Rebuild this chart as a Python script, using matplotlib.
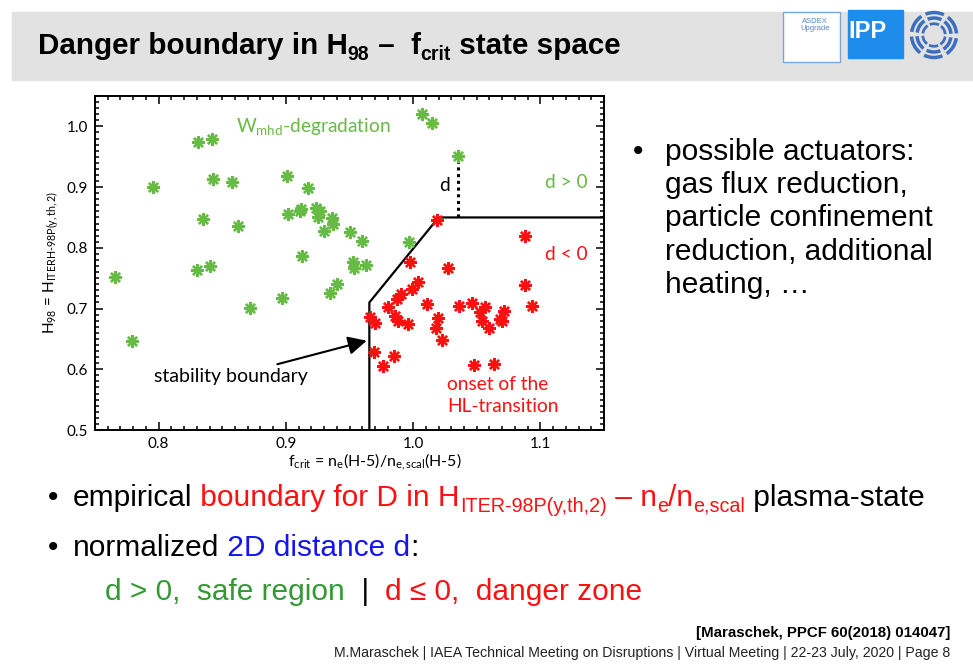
import matplotlib
matplotlib.use('Agg')
import matplotlib.pyplot as plt
from matplotlib.patches import Rectangle, Arc
from matplotlib.ticker import MultipleLocator

# safe (green) shots: f_crit, H98
green_f = [0.766, 0.779, 0.7956, 0.831, 0.8417, 0.8427, 0.8578, 0.8346, 0.8627,
           0.830, 0.840, 0.872, 0.8966, 0.9008, 0.9177, 0.9018, 0.911, 0.9115,
           0.924, 0.925, 0.927, 0.936, 0.937, 0.930, 0.9505, 0.960, 0.9125,
           0.9346, 0.9404, 0.953, 0.9534, 0.9627, 0.997, 1.007, 1.0146, 1.035]
green_h = [0.7525, 0.646, 0.9005, 0.974, 0.979, 0.913, 0.909, 0.847, 0.836,
           0.764, 0.7695, 0.701, 0.717, 0.919, 0.898, 0.856, 0.861, 0.864,
           0.866, 0.850, 0.860, 0.849, 0.839, 0.827, 0.826, 0.811, 0.787,
           0.7256, 0.7404, 0.776, 0.767, 0.772, 0.810, 1.020, 1.006, 0.951]

# danger (red) shots: onset of the HL-transition
red_f = [1.019, 1.088, 0.9977, 1.0276, 1.0042, 0.9995, 0.9906, 0.9877, 0.9802,
         1.0112, 0.9662, 0.9703, 0.9861, 0.988, 0.9958, 1.0193, 1.018, 1.0224,
         0.969, 0.985, 0.9766, 1.0362, 1.0466, 1.0523, 1.0568, 1.0544, 1.0596,
         1.0682, 1.0711, 1.0701, 1.0883, 1.0935, 1.0479, 1.0633]
red_h = [0.845, 0.819, 0.776, 0.767, 0.743, 0.732, 0.724, 0.715, 0.7025,
         0.7074, 0.686, 0.677, 0.688, 0.680, 0.674, 0.684, 0.668, 0.6485,
         0.628, 0.6226, 0.6056, 0.7035, 0.709, 0.695, 0.7025, 0.680, 0.668,
         0.6827, 0.696, 0.680, 0.739, 0.705, 0.607, 0.609]

# stability boundary and example distance d
bound_f = [0.9656, 0.9656, 1.02, 1.15]
bound_h = [0.5, 0.71, 0.85, 0.85]
dist_f = [1.035, 1.035]
dist_h = [0.85, 0.949]

xticks = [0.8, 0.9, 1.0, 1.1]
yticks = [0.5, 0.6, 0.7, 0.8, 0.9, 1.0]

W, H = 973, 664
SLIDE = ['Liberation Sans', 'DejaVu Sans']
NARROW = ['Liberation Sans Narrow', 'Liberation Sans', 'DejaVu Sans']
PLOTF = ['Lato', 'DejaVu Sans']
GREEN = '#66bb44'
RED = '#ff1010'

plt.rcParams['mathtext.fontset'] = 'custom'
plt.rcParams['mathtext.rm'] = 'Lato'
plt.rcParams['mathtext.it'] = 'Lato:italic'

fig = plt.figure(figsize=(W / 100, H / 100), dpi=100)
ren = fig.canvas.get_renderer()


def rich(x, y, pieces, size, family=SLIDE, weight='normal'):
    # pieces: (text, colour, is_subscript); x, y in pixels from top-left, y = baseline
    for txt, col, sub in pieces:
        fs = size * 0.66 if sub else size
        dy = size * 100 / 72 * 0.2 if sub else 0
        t = fig.text(x / W, 1 - (y + dy) / H, txt, color=col, fontsize=fs,
                     family=family, weight=weight, va='baseline', ha='left')
        x += t.get_window_extent(ren).width
    return x


# header band
fig.add_artist(Rectangle((12 / W, 1 - 80 / H), 1, 68 / H, transform=fig.transFigure,
                         color='#e2e2e2', zorder=0))
rich(38, 54, [('Danger boundary in H', 'black', False), ('98', 'black', True),
              (' –  f', 'black', False), ('crit', 'black', True),
              (' state space', 'black', False)], 21.3, family=NARROW, weight='bold')

# logos (rough)
fig.add_artist(Rectangle((783 / W, 1 - 62 / H), 57 / W, 50 / H, transform=fig.transFigure,
                         facecolor='white', edgecolor='#7aa6d8', lw=1))
fig.text(815 / W, 1 - 25 / H, 'ASDEX\nUpgrade', fontsize=5.5, color='#5a86c8',
         ha='center', va='center', family=NARROW, linespacing=0.9)
fig.add_artist(Rectangle((848 / W, 1 - 58 / H), 55 / W, 48 / H, transform=fig.transFigure,
                         color='#1f8ceb'))
fig.text(867 / W, 1 - 31 / H, 'IPP', fontsize=17, color='white', weight='bold',
         ha='center', va='center', family=NARROW)
lax = fig.add_axes([908 / W, 1 - 60 / H, 52 / W, 50 / H])
lax.set_xlim(-1, 1)
lax.set_ylim(-1, 1)
lax.set_aspect('equal')
lax.axis('off')
for r, lw in [(0.9, 2.5), (0.68, 2.5), (0.45, 2)]:
    for a0 in range(0, 360, 60):
        lax.add_patch(Arc((0, 0), 2 * r, 2 * r, theta1=a0 + 4, theta2=a0 + 52,
                          color='#3d6fc0', lw=lw))

# scatter plot
ax = fig.add_axes([95 / W, 1 - 430 / H, 509 / W, 334 / H])
ax.plot(bound_f, bound_h, color='black', lw=1.6, zorder=2)
ax.plot(dist_f, dist_h, color='black', lw=2.2, ls=(0, (1, 1.2)), zorder=2)
ax.plot(green_f, green_h, ls='none', marker=(8, 2, 0), ms=9, mew=1.7,
        color=GREEN, zorder=3)
ax.plot(red_f, red_h, ls='none', marker=(8, 2, 0), ms=9, mew=1.7,
        color=RED, zorder=3)

ax.set_xlim(0.75, 1.15)
ax.set_ylim(0.5, 1.05)
ax.set_xticks(xticks)
ax.set_yticks(yticks)
ax.set_xticklabels(['%.1f' % v for v in xticks], family=PLOTF, fontsize=11)
ax.set_yticklabels(['%.1f' % v for v in yticks], family=PLOTF, fontsize=11)
ax.xaxis.set_minor_locator(MultipleLocator(0.01))
ax.yaxis.set_minor_locator(MultipleLocator(0.01))
ax.tick_params(which='both', direction='in', top=True, right=True, width=1.1)
ax.tick_params(which='major', length=6, pad=5)
ax.tick_params(which='minor', length=3)
for s in ax.spines.values():
    s.set_linewidth(1.4)

ax.set_xlabel(r'f$_{\mathrm{crit}}$ = n$_{\mathrm{e}}$(H-5)/n$_{\mathrm{e,scal}}$(H-5)',
              family=PLOTF, fontsize=11.5)
ax.xaxis.set_label_coords(0.55, -0.065)
ax.set_ylabel(r'H$_{\mathrm{98}}$ = H$_{\mathrm{ITERH\text{-}98P(y,th,2)}}$',
              family=PLOTF, fontsize=11, labelpad=4)

ax.text(0.8606, 1.0, r'W$_{\mathrm{mhd}}$-degradation', color=GREEN, fontsize=13.8,
        family=PLOTF, va='center')
ax.text(1.137, 0.907, 'd > 0', color=GREEN, fontsize=13.8, family=PLOTF,
        ha='right', va='center')
ax.text(1.137, 0.789, 'd < 0', color=RED, fontsize=13.8, family=PLOTF,
        ha='right', va='center')
ax.text(1.029, 0.902, 'd', color='black', fontsize=13.8, family=PLOTF,
        ha='right', va='center')
ax.text(1.027, 0.557, 'onset of the\nHL-transition', color=RED, fontsize=13.8,
        family=PLOTF, va='center', linespacing=1.4)
ax.annotate('stability boundary', xy=(0.9635, 0.647), xytext=(0.796, 0.588),
            fontsize=14, family=PLOTF, va='center',
            arrowprops=dict(arrowstyle='-|>,head_length=0.8,head_width=0.4',
                            color='black', lw=1.5, shrinkA=3, shrinkB=0))

# right-hand bullet
rich(633, 160, [('•', 'black', False)], 21.5)
for i, line in enumerate(['possible actuators:', 'gas flux reduction,',
                          'particle confinement', 'reduction, additional',
                          'heating, …']):
    rich(665, 160 + 33.2 * i, [(line, 'black', False)], 21.5)

# bottom bullets
rich(48, 506, [('•', 'black', False)], 21.5)
rich(73, 506, [('empirical', 'black', False),
               (' boundary for D in H', RED, False), ('ITER-98P(y,th,2)', RED, True),
               (' – n', RED, False), ('e', RED, True), ('/n', RED, False),
               ('e,scal', RED, True), (' plasma-state', 'black', False)], 21.5)
rich(48, 556, [('•', 'black', False)], 21.5)
rich(73, 556, [('normalized', 'black', False), (' 2D distance d', '#1515f0', False),
               (':', 'black', False)], 21.5)
rich(105, 600, [('d > 0,  safe region', '#339933', False), ('  |  ', 'black', False),
                ('d ≤ 0,  danger zone', RED, False)], 21.5)

fig.text(950 / W, 1 - 637 / H, '[Maraschek, PPCF 60(2018) 014047]', fontsize=10.8,
         weight='bold', family=NARROW, ha='right', va='baseline')
fig.text(950 / W, 1 - 657 / H,
         'M.Maraschek | IAEA Technical Meeting on Disruptions | Virtual Meeting | '
         '22-23 July, 2020 | Page 8', fontsize=10.2, family=NARROW, ha='right',
         va='baseline', color='#222222')

fig.savefig('out.png', dpi=100)
